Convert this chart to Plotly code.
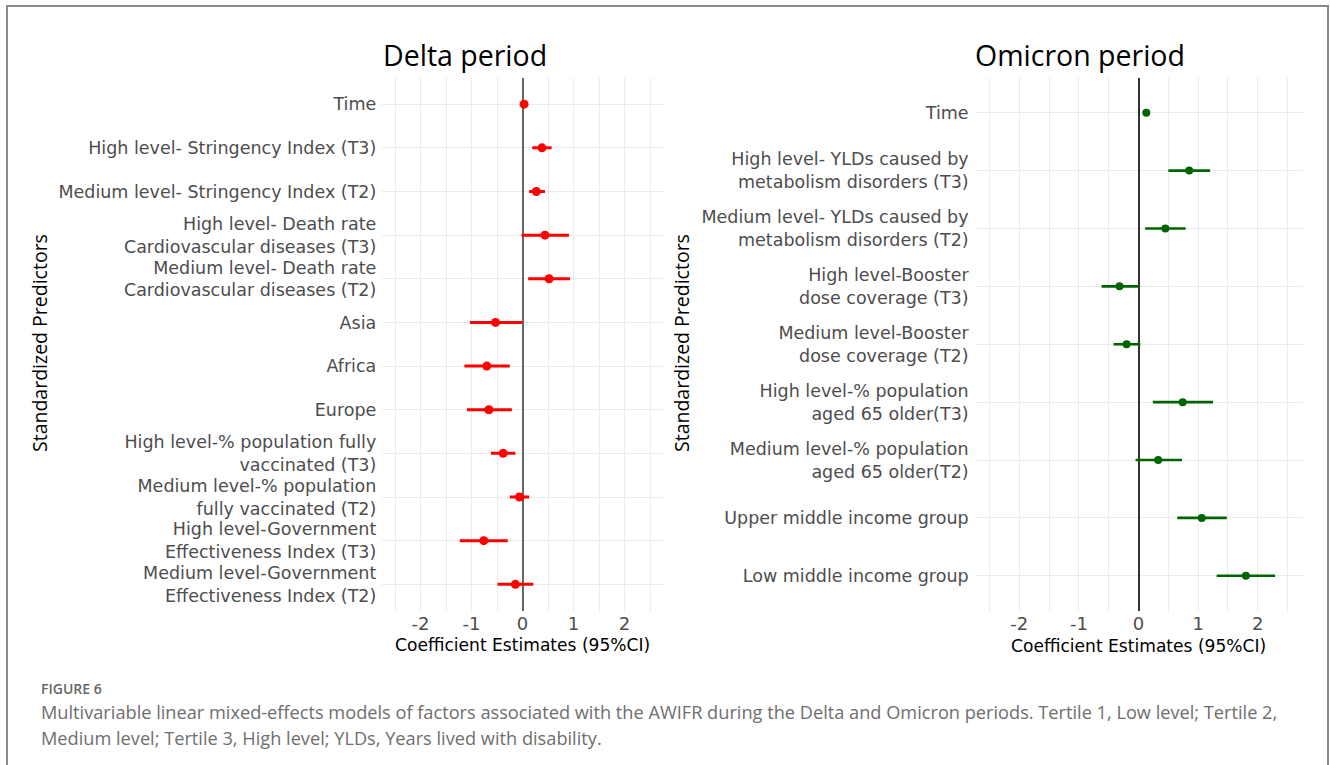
import plotly.graph_objects as go

# ---------------- data ----------------
delta_labels = [
    "Time",
    "High level- Stringency Index (T3)",
    "Medium level- Stringency Index (T2)",
    "High level- Death rate<br>Cardiovascular diseases (T3)",
    "Medium level- Death rate<br>Cardiovascular diseases (T2)",
    "Asia",
    "Africa",
    "Europe",
    "High level-% population fully<br>vaccinated (T3)",
    "Medium level-% population<br>fully vaccinated (T2)",
    "High level-Government<br>Effectiveness Index (T3)",
    "Medium level-Government<br>Effectiveness Index (T2)",
]
delta_est = [0.03, 0.38, 0.27, 0.44, 0.52, -0.53, -0.70, -0.66, -0.38, -0.06, -0.76, -0.14]
delta_lo = [0.01, 0.19, 0.13, -0.02, 0.11, -1.03, -1.14, -1.09, -0.62, -0.25, -1.23, -0.49]
delta_hi = [0.05, 0.57, 0.44, 0.91, 0.93, 0.00, -0.25, -0.21, -0.14, 0.13, -0.29, 0.21]

omicron_labels = [
    "Time",
    "High level- YLDs caused by<br>metabolism disorders (T3)",
    "Medium level- YLDs caused by<br>metabolism disorders (T2)",
    "High level-Booster<br>dose coverage (T3)",
    "Medium level-Booster<br>dose coverage (T2)",
    "High level-% population<br>aged 65 older(T3)",
    "Medium level-% population<br>aged 65 older(T2)",
    "Upper middle income group",
    "Low middle income group",
]
omicron_est = [0.13, 0.85, 0.45, -0.32, -0.20, 0.74, 0.33, 1.06, 1.80]
omicron_lo = [0.11, 0.50, 0.11, -0.62, -0.42, 0.24, -0.05, 0.65, 1.31]
omicron_hi = [0.15, 1.20, 0.79, -0.01, 0.03, 1.25, 0.73, 1.48, 2.29]

x_ticks = [-2, -1, 0, 1, 2]

W, H = 1330, 765
FONT = "Open Sans"
LABEL_FONT = "DejaVu Sans"


def py(px):
    return 1 - px / H


def pxx(px):
    return px / W


fig = go.Figure()

panels = [
    dict(labels=delta_labels, est=delta_est, lo=delta_lo, hi=delta_hi,
         color="#ff0000", msize=9, lw=3, xa="x", ya="y",
         dom=[pxx(382.3), pxx(662.8)], zc="#666666", zw=2.2),
    dict(labels=omicron_labels, est=omicron_est, lo=omicron_lo, hi=omicron_hi,
         color="#006400", msize=8, lw=2.6, xa="x2", ya="y2",
         dom=[pxx(974.6), pxx(1302.5)], zc="#333333", zw=1.6),
]

ydom = [py(610.5), py(78)]

for i, p in enumerate(panels):
    plus = [h - e for h, e in zip(p["hi"], p["est"])]
    minus = [e - l for e, l in zip(p["est"], p["lo"])]
    fig.add_trace(go.Scatter(
        x=p["est"], y=p["labels"], mode="markers",
        marker=dict(color=p["color"], size=p["msize"]),
        error_x=dict(type="data", array=plus, arrayminus=minus,
                     color=p["color"], thickness=p["lw"], width=0),
        xaxis=p["xa"], yaxis=p["ya"], showlegend=False,
        hoverinfo="x+y",
    ))
    n = len(p["labels"])
    suffix = "" if i == 0 else "2"
    fig.layout["xaxis" + suffix] = dict(
        domain=p["dom"], anchor=p["ya"], range=[-2.75, 2.75],
        tickvals=x_ticks, ticktext=[str(t) for t in x_ticks],
        showgrid=True, gridcolor="#ebebeb", gridwidth=1.2,
        minor=dict(dtick=0.5, tick0=0, showgrid=True, gridcolor="#ebebeb", gridwidth=0.8),
        zeroline=True, zerolinecolor=p["zc"], zerolinewidth=p["zw"],
        showline=False, ticks="",
        tickfont=dict(family=LABEL_FONT, size=18, color="#4d4d4d"),
        fixedrange=True,
    )
    fig.layout["yaxis" + suffix] = dict(
        domain=ydom, anchor=p["xa"], type="category",
        categoryorder="array", categoryarray=p["labels"],
        range=[n - 1 + 0.6, -0.6],
        showgrid=True, gridcolor="#ebebeb", gridwidth=1.2,
        zeroline=False, showline=False, ticks="",
        ticklabelstandoff=5,
        tickfont=dict(family=LABEL_FONT, size=17.5, color="#4d4d4d"),
        fixedrange=True,
    )

annotations = [
    dict(text="Delta period", x=pxx(381), y=py(55), xanchor="left", yanchor="middle",
         font=dict(family=FONT, size=28.5, color="#000000")),
    dict(text="Omicron period", x=pxx(973), y=py(55), xanchor="left", yanchor="middle",
         font=dict(family=FONT, size=28.5, color="#000000")),
    dict(text="Coefficient Estimates (95%CI)", x=pxx(522.5), y=py(645), xanchor="center",
         yanchor="middle", font=dict(family=LABEL_FONT, size=17.1, color="#000000")),
    dict(text="Coefficient Estimates (95%CI)", x=pxx(1138.5), y=py(646), xanchor="center",
         yanchor="middle", font=dict(family=LABEL_FONT, size=17.1, color="#000000")),
    dict(text="Standardized Predictors", x=pxx(40), y=py(343), textangle=-90,
         xanchor="center", yanchor="middle", font=dict(family=FONT, size=19.5, color="#000000")),
    dict(text="Standardized Predictors", x=pxx(682), y=py(343), textangle=-90,
         xanchor="center", yanchor="middle", font=dict(family=FONT, size=19.5, color="#000000")),
    dict(text="FIGURE 6", x=pxx(39), y=py(688), xanchor="left", yanchor="middle",
         font=dict(family=FONT, size=14, color="#666666", weight=600)),
    dict(text="Multivariable linear mixed-effects models of factors associated with the AWIFR during the Delta and Omicron periods. Tertile 1, Low level; Tertile 2,",
         x=pxx(39), y=py(712), xanchor="left", yanchor="middle",
         font=dict(family=FONT, size=18.2, color="#6e6e6e")),
    dict(text="Medium level; Tertile 3, High level; YLDs, Years lived with disability.",
         x=pxx(39), y=py(738), xanchor="left", yanchor="middle",
         font=dict(family=FONT, size=18.2, color="#6e6e6e")),
]
for a in annotations:
    a.update(xref="paper", yref="paper", showarrow=False)

fig.update_layout(
    width=W, height=H,
    margin=dict(l=0, r=0, t=0, b=0),
    paper_bgcolor="#ffffff", plot_bgcolor="#ffffff",
    annotations=annotations,
    shapes=[dict(type="rect", xref="paper", yref="paper",
                 x0=pxx(7), x1=pxx(1328), y0=-0.2, y1=py(6),
                 line=dict(color="#8a8a8a", width=2), fillcolor="rgba(0,0,0,0)")],
)

fig.write_html("out.html")
